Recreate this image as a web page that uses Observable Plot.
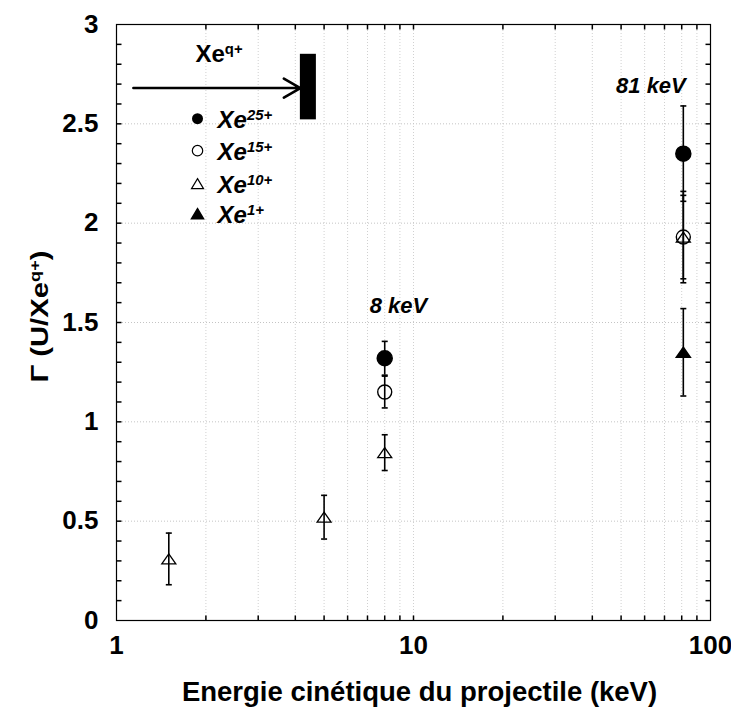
<!DOCTYPE html>
<html><head><meta charset="utf-8">
<script src="https://cdn.jsdelivr.net/npm/d3@7"></script>
<script src="https://cdn.jsdelivr.net/npm/@observablehq/plot@0.6"></script>
<style>body{margin:0;background:#fff} #chart{width:731px;height:720px}</style>
</head><body><div id="chart"></div>
<script>
// ---- data (keV, yield) ----
const xe25Energy = [8, 81], xe25Gamma = [1.32, 2.35], xe25Err = [0.085, 0.24];
const xe15Energy = [8, 81], xe15Gamma = [1.15, 1.93], xe15Err = [0.08, 0.23];
const xe10Energy = [1.5, 5, 8, 81], xe10Gamma = [0.31, 0.52, 0.845, 1.93], xe10Err = [0.13, 0.11, 0.09, 0.21];
const xe1Energy = [81], xe1Gamma = [1.35], xe1Err = [0.22];

const legendNames = ["Xe^{25+}", "Xe^{15+}", "Xe^{10+}", "Xe^{1+}"];
const legendGamma = [2.526, 2.365, 2.199, 2.048];
const energyLabels = ["8 keV", "81 keV"];
const energyLabelEnergy = [8.9, 63];
const energyLabelGamma = [1.585, 2.69];
const beamLabel = ["Xe^{q+}"];
const arrowEnergy = [1.14, 4.16], arrowGamma = [2.68];
const barEnergy = [4.16, 4.71], barGamma = [2.52, 2.85];

const xTickLabels = [1, 10, 100];
const yTickLabels = [0, 0.5, 1, 1.5, 2, 2.5, 3];
const xMinorTicks = [2, 3, 4, 5, 6, 7, 8, 9, 10, 20, 30, 40, 50, 60, 70, 80, 90];
const yMinorTicks = [0.1,0.2,0.3,0.4,0.5,0.6,0.7,0.8,0.9,1,1.1,1.2,1.3,1.4,1.5,1.6,1.7,1.8,1.9,2,2.1,2.2,2.3,2.4,2.5,2.6,2.7,2.8,2.9];
const yGrid = [0.5, 1, 1.5, 2, 2.5];
const xTitle = "Energie cinétique du projectile (keV)";
const yTitle = "Γ (U/Xe^{q+})";

// ---- helpers ----
const rows = (E, G, Er) => E.map((e, i) => ({e, g: G[i], err: Er[i]}));
const s25 = rows(xe25Energy, xe25Gamma, xe25Err);
const s15 = rows(xe15Energy, xe15Gamma, xe15Err);
const s10 = rows(xe10Energy, xe10Gamma, xe10Err);
const s1 = rows(xe1Energy, xe1Gamma, xe1Err);
const all = [...s25, ...s15, ...s10, ...s1];

const tri = (w, h) => ({draw(c) { c.moveTo(0, -h / 2); c.lineTo(w / 2, h / 2); c.lineTo(-w / 2, h / 2); c.closePath(); }});
const line = (dx1, dy1, dx2, dy2) => ({draw(c) { c.moveTo(dx1, dy1); c.lineTo(dx2, dy2); }});
const capSym = line(-3, 0, 3, 0);
const tickUp = line(0, 0, 0, -5), tickDown = line(0, 0, 0, 5);
const tickRight = line(0, 0, 5, 0), tickLeft = line(0, 0, -5, 0);
const bigTri = tri(14, 10), smallTri = tri(12, 10);

const legendRows = legendNames.map((n, i) => ({n, g: legendGamma[i], i}));
const legendSymX = 1.874, legendTextX = 2.19;
const F = "Liberation Sans, Arial, sans-serif";

const chart = Plot.plot({
  width: 731, height: 720,
  marginLeft: 116, marginRight: 21, marginTop: 24, marginBottom: 100,
  x: {type: "log", domain: [1, 100], axis: null},
  y: {domain: [0, 3], axis: null},
  style: {fontFamily: F, background: "white", color: "black"},
  marks: [
    Plot.ruleX(xMinorTicks, {x: d => d, stroke: "#d0d0d0", strokeDasharray: "1,2"}),
    Plot.ruleY(yGrid, {y: d => d, stroke: "#c4c4c4", strokeDasharray: "1,2"}),
    Plot.frame({stroke: "black", strokeWidth: 1.2}),
    Plot.dot(xMinorTicks, {x: d => d, y: 0, symbol: tickUp, stroke: "black", fill: "none", r: 5}),
    Plot.dot(xMinorTicks, {x: d => d, y: 3, symbol: tickDown, stroke: "black", fill: "none", r: 5}),
    Plot.dot(yMinorTicks, {x: 1, y: d => d, symbol: tickRight, stroke: "black", fill: "none", r: 5}),
    Plot.dot(yMinorTicks, {x: 100, y: d => d, symbol: tickLeft, stroke: "black", fill: "none", r: 5}),
    // error bars
    Plot.ruleX(all, {x: "e", y1: d => d.g - d.err, y2: d => d.g + d.err, stroke: "black", strokeWidth: 1.6}),
    Plot.dot(all, {x: "e", y: d => d.g - d.err, symbol: capSym, stroke: "black", strokeWidth: 1.6, fill: "none", r: 3}),
    Plot.dot(all, {x: "e", y: d => d.g + d.err, symbol: capSym, stroke: "black", strokeWidth: 1.6, fill: "none", r: 3}),
    // points
    Plot.dot(s10, {x: "e", y: "g", symbol: bigTri, stroke: "black", strokeWidth: 1.3, fill: "none", r: 6}),
    Plot.dot(s15, {x: "e", y: "g", symbol: "circle", stroke: "black", strokeWidth: 1.4, fill: "none", r: 7}),
    Plot.dot(s25, {x: "e", y: "g", symbol: "circle", fill: "black", stroke: "black", r: 7.5}),
    Plot.dot(s1, {x: "e", y: "g", symbol: bigTri, fill: "black", stroke: "black", r: 6}),
    // beam annotation
    Plot.arrow([0], {x1: () => arrowEnergy[0], x2: () => arrowEnergy[1], y1: () => arrowGamma[0], y2: () => arrowGamma[0], stroke: "black", strokeWidth: 2.6, headLength: 11}),
    Plot.rect([0], {x1: () => barEnergy[0], x2: () => barEnergy[1], y1: () => barGamma[0], y2: () => barGamma[1], fill: "black"}),
    Plot.text(beamLabel, {x: 1.845, y: 2.85, text: d => d, textAnchor: "start", fontSize: 24, fontWeight: "bold"}),
    // energy labels
    Plot.text(energyLabels, {x: (d, i) => energyLabelEnergy[i], y: (d, i) => energyLabelGamma[i], text: d => d, fontSize: 22, fontWeight: "bold", fontStyle: "italic"}),
    // legend
    Plot.dot(legendRows.filter(d => d.i === 0), {x: legendSymX, y: "g", symbol: "circle", fill: "black", r: 5.5}),
    Plot.dot(legendRows.filter(d => d.i === 1), {x: legendSymX, y: "g", symbol: "circle", fill: "none", stroke: "black", strokeWidth: 1.2, r: 5.2}),
    Plot.dot(legendRows.filter(d => d.i === 2), {x: legendSymX, y: "g", symbol: smallTri, fill: "none", stroke: "black", strokeWidth: 1.2, r: 5}),
    Plot.dot(legendRows.filter(d => d.i === 3), {x: legendSymX, y: "g", symbol: smallTri, fill: "black", stroke: "black", r: 5}),
    Plot.text(legendRows, {x: legendTextX, y: "g", text: "n", textAnchor: "start", fontSize: 24, fontWeight: "bold", fontStyle: "italic", dy: 2}),
    // tick labels
    Plot.text(xTickLabels, {x: d => d, frameAnchor: "bottom", dy: 33, text: d => String(d), fontSize: 26, fontWeight: "bold"}),
    Plot.text(yTickLabels, {y: d => d, frameAnchor: "left", dx: -18, textAnchor: "end", text: d => String(d), fontSize: 26, fontWeight: "bold"}),
    // titles
    Plot.text([xTitle], {frameAnchor: "bottom", dy: 80, dx: 6, text: d => d, fontSize: 27.5, fontWeight: "bold"}),
    Plot.text([yTitle], {frameAnchor: "left", dx: -76, dy: -6, rotate: -90, text: d => d, fontSize: 24, fontWeight: "bold"})
  ]
});

// superscripts
chart.querySelectorAll("text").forEach(t => {
  const s = t.textContent;
  if (!s.includes("^{")) return;
  const parts = s.split(/\^\{([^}]*)\}/);
  t.textContent = "";
  parts.forEach((p, i) => {
    if (!p) return;
    const ts = document.createElementNS("http://www.w3.org/2000/svg", "tspan");
    ts.textContent = p;
    if (i % 2) { ts.setAttribute("baseline-shift", "super"); ts.setAttribute("font-size", "62%"); }
    t.appendChild(ts);
  });
  if (t.textContent.startsWith("Γ")) {
    t.setAttribute("text-anchor", "middle");
    t.setAttribute("textLength", "132");
    t.setAttribute("lengthAdjust", "spacingAndGlyphs");
  }
});
document.getElementById("chart").appendChild(chart);
</script>
</body></html>
